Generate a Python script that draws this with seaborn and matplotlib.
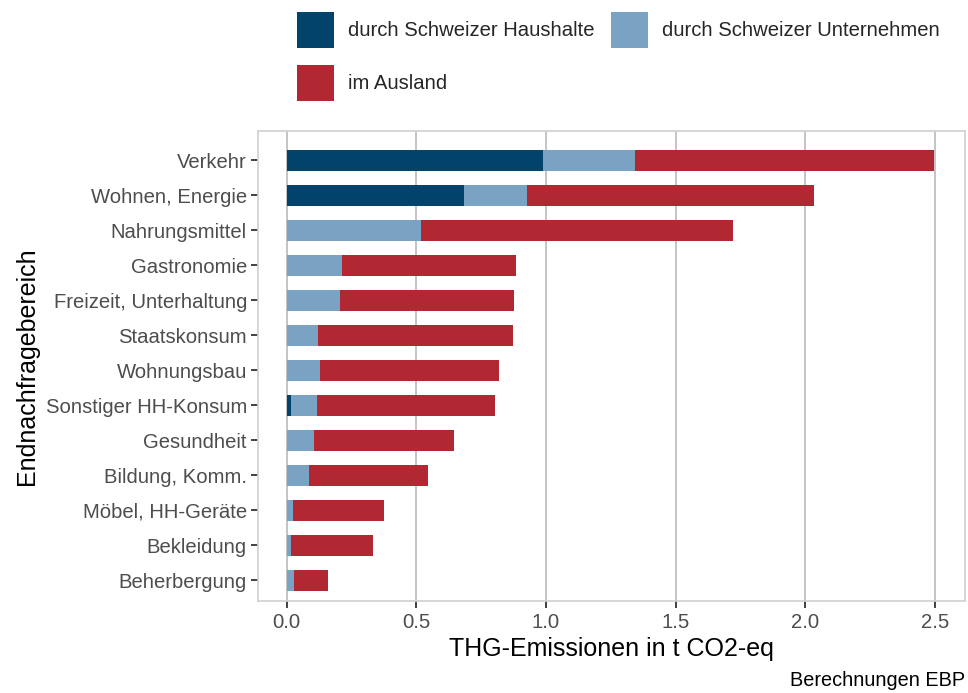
import numpy as np
import pandas as pd
import matplotlib
matplotlib.use("Agg")
import matplotlib.pyplot as plt
import seaborn as sns
from matplotlib.patches import Patch

categories = ["Verkehr", "Wohnen, Energie", "Nahrungsmittel", "Gastronomie",
              "Freizeit, Unterhaltung", "Staatskonsum", "Wohnungsbau",
              "Sonstiger HH-Konsum", "Gesundheit", "Bildung, Komm.",
              "Möbel, HH-Geräte", "Bekleidung", "Beherbergung"]
haushalte = [0.988, 0.684, 0.0, 0.0, 0.0, 0.0, 0.0, 0.018, 0.0, 0.0, 0.0, 0.0, 0.0]
unternehmen = [0.354, 0.244, 0.520, 0.215, 0.208, 0.123, 0.130, 0.100, 0.106, 0.088, 0.026, 0.016, 0.030]
ausland = [1.155, 1.106, 1.203, 0.670, 0.669, 0.750, 0.688, 0.684, 0.540, 0.457, 0.350, 0.319, 0.129]
series_names = ["durch Schweizer Haushalte", "durch Schweizer Unternehmen", "im Ausland"]
colors = ["#01436A", "#7AA3C3", "#B12833"]
x_ticks = [0.0, 0.5, 1.0, 1.5, 2.0, 2.5]

df = pd.DataFrame({"Kategorie": categories, "hh": haushalte,
                   "unt": unternehmen, "aus": ausland})
df["c1"] = df["hh"]
df["c2"] = df["hh"] + df["unt"]
df["c3"] = df["c2"] + df["aus"]

sns.set_theme(style="white")
plt.rcParams["font.family"] = ["Liberation Sans", "DejaVu Sans"]

fig = plt.figure(figsize=(9.68, 6.93), dpi=100)
ax = fig.add_axes([258/968, (693-601)/693, (965-258)/968, (601-131)/693])

for col, c in zip(["c3", "c2", "c1"], colors[::-1]):
    sns.barplot(data=df, x=col, y="Kategorie", order=categories, orient="h",
                color=c, width=0.6, saturation=1, ax=ax, linewidth=0, zorder=3)

ax.set_xlim(-0.11, 2.616)
ax.set_ylim(12.6, -0.83)
ax.set_xticks(x_ticks)
ax.set_xticklabels([f"{v:.1f}" for v in x_ticks])
ax.grid(axis="x", color="#C4C4C4", linewidth=1.4, zorder=0)
ax.grid(axis="y", visible=False)
ax.set_axisbelow(True)
for s in ax.spines.values():
    s.set_color("#D0D0D0")
    s.set_linewidth(1.2)
ax.tick_params(axis="both", which="both", length=5, width=1.3, color="#333333",
               labelcolor="#4D4D4D", labelsize=14.6, pad=4, direction="out",
               bottom=True, left=True)
ax.tick_params(axis="y", pad=3)
ax.set_xlabel("THG-Emissionen in t CO2-eq", fontsize=18, color="black", labelpad=3)
ax.set_ylabel("Endnachfragebereich", fontsize=18, color="black", labelpad=5)

handles = [Patch(facecolor=c, edgecolor="none") for c in colors]
order = [0, 2, 1]
fig.legend([handles[i] for i in order], [series_names[i] for i in order],
           ncol=2, loc="upper left",
           bbox_to_anchor=(297/968, 1 - 12/693), frameon=False,
           fontsize=14.6, handlelength=1.82, handleheight=2.35,
           handletextpad=0.7, columnspacing=0.8, labelspacing=0.84,
           borderaxespad=0, borderpad=0)

fig.text(965/968, 1 - 681/693, "Berechnungen EBP", ha="right", va="center",
         fontsize=14.3, color="black")

fig.savefig("out.png", dpi=100)
